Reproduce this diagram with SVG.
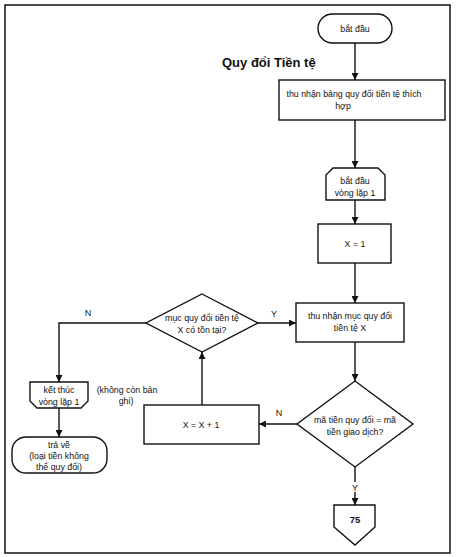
<svg xmlns="http://www.w3.org/2000/svg" width="456" height="557" viewBox="0 0 456 557">
<defs>
<marker id="ah" viewBox="0 0 10 10" refX="10" refY="5" markerWidth="7" markerHeight="7" orient="auto" markerUnits="userSpaceOnUse">
<path d="M0,0 L10,5 L0,10 z" fill="#111"/>
</marker>
<style>
.s{fill:#fff;stroke:#111;stroke-width:1.4}
.c{fill:none;stroke:#111;stroke-width:1.4}
text{font-family:"Liberation Sans",Arial,sans-serif;font-size:8.8px;fill:#111;text-anchor:middle}
.t{font-size:13px;font-weight:bold;text-anchor:start}
.b{font-weight:bold;font-size:9.5px}
.l{font-size:9px}
</style>
</defs>
<rect x="0" y="0" width="456" height="557" fill="#fff"/>
<rect x="5" y="5" width="445" height="548" fill="none" stroke="#111" stroke-width="1.5"/>
<text class="t" x="222" y="67">Quy đổi Tiền tệ</text>

<g id="connectors">
<path class="c" d="M355,43 V80" marker-end="url(#ah)"/>
<path class="c" d="M355,120 V168" marker-end="url(#ah)"/>
<path class="c" d="M355,200 V224" marker-end="url(#ah)"/>
<path class="c" d="M355,263 V303" marker-end="url(#ah)"/>
<path class="c" d="M258,323 H296" marker-end="url(#ah)"/>
<path class="c" d="M355,342 V381" marker-end="url(#ah)"/>
<path class="c" d="M146,323 H59 V382" marker-end="url(#ah)"/>
<path class="c" d="M59,408 V437" marker-end="url(#ah)"/>
<path class="c" d="M297,424 H259" marker-end="url(#ah)"/>
<path class="c" d="M202,405 V352" marker-end="url(#ah)"/>
<path class="c" d="M355,467 V482 M355,492 V505" marker-end="url(#ah)"/>
<text class="l" x="274" y="317">Y</text>
<text class="l" x="88" y="316">N</text>
<text class="l" x="279" y="416">N</text>
<text class="l" x="355" y="491">Y</text>
</g>

<g id="start">
<rect class="s" x="318" y="14" width="74" height="29" rx="14.5"/>
<text x="355" y="32">bắt đầu</text>
</g>

<g id="getTable">
<rect class="s" x="279" y="80" width="166" height="40"/>
<text x="354" y="97">thu nhận bảng quy đổi tiền tệ thích</text>
<text x="343" y="109">hợp</text>
</g>

<g id="loopStart">
<path class="s" d="M333,168 H378 L385,175 V200 H326 V175 Z"/>
<text x="355" y="184">bắt đầu</text>
<text x="355" y="196">vòng lặp 1</text>
</g>

<g id="xInit">
<rect class="s" x="318" y="224" width="73" height="39"/>
<text x="355" y="247">X = 1</text>
</g>

<g id="getItem">
<rect class="s" x="296" y="303" width="108" height="39"/>
<text x="350" y="319">thu nhận mục quy đổi</text>
<text x="350" y="331">tiền tệ X</text>
</g>

<g id="exists">
<path class="s" d="M202,294 L258,323 L202,352 L146,323 Z"/>
<text x="202" y="321">mục quy đổi tiền tệ</text>
<text x="202" y="333">X có tồn tại?</text>
</g>

<g id="loopEnd">
<path class="s" d="M30,382 H88 V401 L81,408 H37 L30,401 Z"/>
<text x="59" y="393">kết thúc</text>
<text x="59" y="405">vòng lặp 1</text>
</g>

<g id="noteNoRecord">
<text x="127" y="393">(không còn bản</text>
<text x="126" y="404">ghi)</text>
</g>

<g id="returnEnd">
<rect class="s" x="12" y="437" width="95" height="36" rx="14"/>
<text x="59" y="448">trả về</text>
<text x="59" y="459">(loại tiền không</text>
<text x="59" y="470">thể quy đổi)</text>
</g>

<g id="increment">
<rect class="s" x="144" y="405" width="115" height="39"/>
<text x="201" y="428">X = X + 1</text>
</g>

<g id="match">
<path class="s" d="M355,381 L413,424 L355,467 L297,424 Z"/>
<text x="355" y="423">mã tiền quy đổi = mã</text>
<text x="355" y="435">tiền giao dịch?</text>
</g>

<g id="offpage75">
<path class="s" d="M334,505 H375 V527 L355,545 L334,527 Z"/>
<text class="b" x="355" y="523">75</text>
</g>
</svg>
